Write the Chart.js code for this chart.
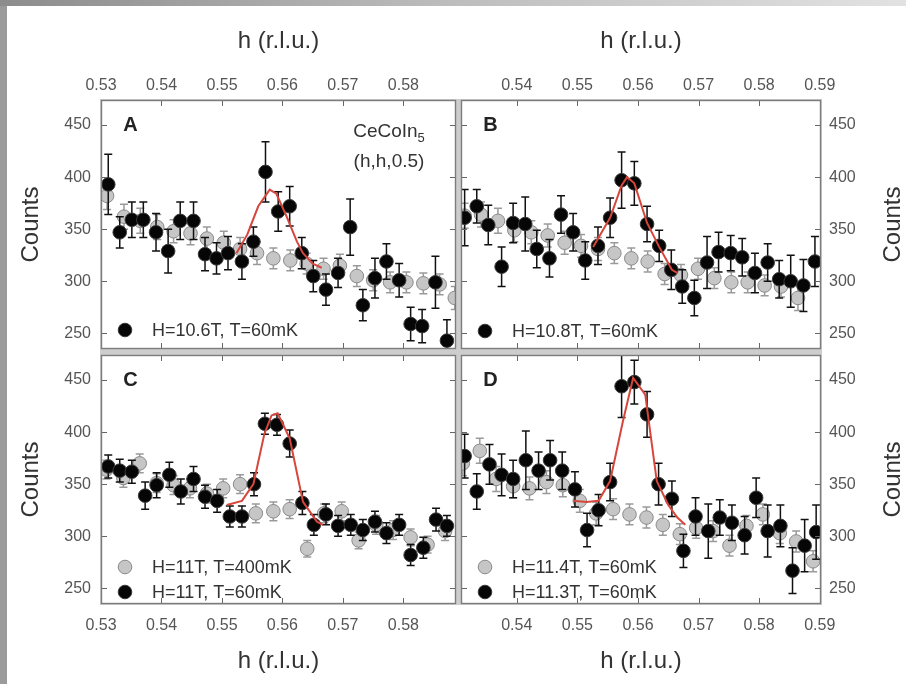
<!DOCTYPE html>
<html><head><meta charset="utf-8">
<script src="https://cdn.jsdelivr.net/npm/chart.js@4.4.1/dist/chart.umd.min.js"></script>
<style>
html,body{margin:0;padding:0;width:906px;height:684px;overflow:hidden;background:#fff}
.abs{position:absolute}
#fl{left:0;top:0;width:7px;height:684px;background:#9b9b9b}
#ft{left:0;top:0;width:906px;height:6px;background:linear-gradient(to right,#8c8c8c,#bdbdbd 50%,#e2e2e2)}
#gap{left:100px;top:99px;width:722px;height:506px;background:#cdcdcd}
canvas{position:absolute;left:0;top:0}
</style></head><body>
<div class="abs" id="gap"></div>
<div class="abs" id="fl"></div><div class="abs" id="ft"></div>
<canvas id="cA" width="906" height="684"></canvas>
<canvas id="cB" width="906" height="684"></canvas>
<canvas id="cC" width="906" height="684"></canvas>
<canvas id="cD" width="906" height="684"></canvas>
<script>
// ---------- tick labels / titles ----------
const xTicksLeft = [0.53, 0.54, 0.55, 0.56, 0.57, 0.58];
const xTicksRight = [0.54, 0.55, 0.56, 0.57, 0.58, 0.59];
const yTicks = [250, 300, 350, 400, 450];
const xTitle = 'h (r.l.u.)';
const yTitle = 'Counts';
const compound = 'CeCoIn';
const compoundSub = '5';
const qLabel = '(h,h,0.5)';
const panelLetters = ['A', 'B', 'C', 'D'];

// ---------- Panel A ----------
const aLegend = ['H=10.6T, T=60mK'];
const aBlackH = [0.5312,0.5331,0.5351,0.5370,0.5391,0.5411,0.5431,0.5453,0.5472,0.5491,0.5510,0.5533,0.5552,0.5572,0.5593,0.5612,0.5632,0.5651,0.5672,0.5692,0.5712,0.5733,0.5753,0.5772,0.5793,0.5812,0.5831,0.5853,0.5872];
const aBlackV = [393,347,359,359,347,329,358,358,326,322,327,319,338,405,367,372,327,305,292,308,352,277,303,319,301,259,257,299,243];
const aBlackE = [29,15,17,17,18,21,18,18,16,15,16,17,14,29,19,19,15,15,15,14,27,15,19,17,16,16,16,25,20];
const aGrayH = [0.5310,0.5338,0.5365,0.5393,0.5420,0.5448,0.5475,0.5503,0.5530,0.5558,0.5585,0.5613,0.5640,0.5668,0.5695,0.5723,0.5750,0.5778,0.5805,0.5833,0.5860,0.5885];
const aGrayV = [382,362,358,352,348,346,341,337,331,327,322,320,317,312,315,305,301,299,299,298,297,284];
const aGrayE = [13,12,12,12,11,11,11,11,11,11,10,10,10,10,11,10,10,10,10,10,10,11];
const aFitH = [0.5524,0.5542,0.5560,0.5579,0.5590,0.5607,0.5624,0.5634,0.5650,0.5665];
const aFitV = [327,345,372,388,384,362,338,327,317,313];

// ---------- Panel B ----------
const bLegend = ['H=10.8T, T=60mK'];
const bBlackH = [0.5314,0.5334,0.5353,0.5375,0.5394,0.5414,0.5433,0.5454,0.5473,0.5493,0.5513,0.5534,0.5554,0.5573,0.5594,0.5615,0.5635,0.5655,0.5673,0.5693,0.5714,0.5733,0.5753,0.5772,0.5793,0.5814,0.5833,0.5852,0.5873,0.5892];
const bBlackV = [361,372,354,314,356,355,331,322,364,347,320,334,361,397,394,355,334,311,295,284,318,328,327,323,308,318,302,300,296,319];
const bBlackE = [27,16,19,19,19,26,18,18,18,18,18,18,19,27,21,17,15,19,16,17,25,19,17,18,19,18,18,25,25,24];
const bGrayH = [0.5314,0.5341,0.5369,0.5396,0.5424,0.5451,0.5479,0.5506,0.5534,0.5561,0.5589,0.5616,0.5644,0.5671,0.5699,0.5726,0.5754,0.5781,0.5809,0.5836,0.5864];
const bGrayV = [363,364,358,349,347,344,337,334,331,327,322,319,307,306,312,303,299,299,296,295,284];
const bGrayE = [12,12,12,11,11,11,11,11,11,10,10,10,10,10,10,10,10,10,10,10,12];
const bFitH = [0.5526,0.5554,0.5573,0.5582,0.5594,0.5615,0.5635,0.5656,0.5665];
const bFitV = [333,361,392,400,394,356,333,311,308];

// ---------- Panel C ----------
const cLegend = ['H=11T, T=400mK', 'H=11T, T=60mK'];
const cBlackH = [0.5312,0.5331,0.5351,0.5373,0.5392,0.5413,0.5432,0.5453,0.5472,0.5492,0.5513,0.5533,0.5553,0.5571,0.5591,0.5612,0.5633,0.5652,0.5672,0.5692,0.5713,0.5733,0.5753,0.5772,0.5793,0.5812,0.5833,0.5854,0.5872];
const cBlackV = [367,363,362,339,349,359,343,355,338,334,319,319,350,408,407,389,332,311,321,310,311,306,314,303,311,282,289,316,310];
const cBlackE = [11,11,11,13,12,12,12,12,11,11,10,10,11,10,10,13,11,10,10,10,10,10,10,10,10,10,10,11,10];
const cGrayH = [0.5309,0.5337,0.5364,0.5392,0.5420,0.5447,0.5475,0.5502,0.5530,0.5556,0.5585,0.5612,0.5641,0.5669,0.5698,0.5726,0.5755,0.5783,0.5812,0.5840,0.5869];
const cGrayV = [364,356,370,351,349,346,341,346,350,322,324,326,288,322,324,296,311,306,299,292,305];
const cGrayE = [9,9,9,9,9,9,9,9,9,9,9,9,8,9,9,8,9,9,8,8,9];
const cFitH = [0.5508,0.5533,0.5552,0.5570,0.5582,0.5592,0.5612,0.5634,0.5657,0.5667];
const cFitV = [330,334,350,398,416,418,394,333,314,311];

// ---------- Panel D ----------
const dLegend = ['H=11.4T, T=60mK', 'H=11.3T, T=60mK'];
const dBlackH = [0.5314,0.5334,0.5355,0.5375,0.5394,0.5415,0.5436,0.5455,0.5475,0.5496,0.5516,0.5535,0.5554,0.5573,0.5594,0.5615,0.5634,0.5656,0.5675,0.5695,0.5716,0.5735,0.5755,0.5776,0.5795,0.5814,0.5835,0.5855,0.5875,0.5894];
const dBlackV = [377,343,369,359,355,373,363,373,363,345,306,325,352,444,448,417,350,336,286,319,305,318,313,301,337,305,310,267,291,304];
const dBlackE = [21,17,19,20,18,28,18,19,18,17,16,15,18,30,21,22,20,17,16,18,26,17,17,18,19,25,20,22,25,26];
const dGrayH = [0.5311,0.5339,0.5366,0.5394,0.5421,0.5449,0.5476,0.5504,0.5531,0.5559,0.5586,0.5614,0.5641,0.5669,0.5696,0.5724,0.5751,0.5779,0.5806,0.5834,0.5861,0.5889];
const dGrayV = [370,382,355,348,346,352,349,334,322,326,321,318,311,302,308,305,291,310,321,303,295,276];
const dGrayE = [12,12,12,11,11,11,11,11,11,10,10,10,10,10,10,10,10,10,10,10,10,10];
const dFitH = [0.5493,0.5515,0.5535,0.5554,0.5575,0.5592,0.5612,0.5631,0.5650,0.5665,0.5678];
const dFitV = [334,333,334,353,410,452,436,353,330,318,311];

// ---------- styles ----------
const FONT = "'Liberation Sans', Arial, Helvetica, sans-serif";
const W = 906, H = 684;
const Y_MIN = 235, Y_MAX = 474;
const BLACK = {bg:'#060606', border:'#3a3a3a', err:'#111111'};
const GRAY = {bg:'#c6c6c6', border:'#8a8a8a', err:'#9a9a9a'};
const PR = 6.8;

function pts(hs, vs){ return hs.map((h,i)=>({x:h, y:vs[i]})); }

function makePanel(id, p){
  const A = p.area;
  const datasets = [];
  if (p.gray){
    datasets.push({label: p.grayLabel, data: pts(p.gray[0], p.gray[1]), err: p.gray[2], sty: GRAY,
      showLine:false, pointRadius:PR, pointHoverRadius:PR, backgroundColor:GRAY.bg, borderColor:GRAY.border, borderWidth:1, order:2});
  }
  datasets.push({label: p.blackLabel, data: pts(p.black[0], p.black[1]), err: p.black[2], sty: BLACK,
    showLine:false, pointRadius:PR, pointHoverRadius:PR, backgroundColor:BLACK.bg, borderColor:BLACK.border, borderWidth:1, order:1});
  datasets.push({type:'line', label:'fit', data: pts(p.fit[0], p.fit[1]), showLine:true, pointRadius:0,
    borderColor:'#d6463c', borderWidth:2, fill:false, tension:0, order:0});

  const top = p.xPos === 'top', left = p.yPos === 'left';
  const plugin = {
    id:'panel'+id,
    beforeDraw(chart){
      const c = chart.ctx, a = chart.chartArea;
      c.save(); c.fillStyle = '#fff'; c.fillRect(a.left, a.top, a.right-a.left, a.bottom-a.top); c.restore();
    },
    beforeDatasetDraw(chart, args){
      const ds = chart.data.datasets[args.index];
      if (!ds.err) return;
      const c = chart.ctx, a = chart.chartArea, ys = chart.scales.y;
      c.save();
      c.beginPath(); c.rect(a.left, a.top, a.right-a.left, a.bottom-a.top); c.clip();
      c.strokeStyle = ds.sty.err; c.lineWidth = 1.5;
      args.meta.data.forEach((el, i) => {
        const v = ds.data[i].y, e = ds.err[i];
        const y1 = ys.getPixelForValue(v + e), y2 = ys.getPixelForValue(v - e);
        c.beginPath();
        c.moveTo(el.x, y1); c.lineTo(el.x, y2);
        c.moveTo(el.x-4, y1); c.lineTo(el.x+4, y1);
        c.moveTo(el.x-4, y2); c.lineTo(el.x+4, y2);
        c.stroke();
      });
      c.restore();
    },
    afterDraw(chart){
      const c = chart.ctx, a = chart.chartArea, xs = chart.scales.x, ys = chart.scales.y;
      c.save();
      // ticks inward on all four sides
      c.strokeStyle = '#666'; c.lineWidth = 1;
      c.beginPath();
      xs.ticks.forEach(t => {
        const x = Math.round(xs.getPixelForValue(t.value)) + 0.5;
        if (x <= a.left + 2 || x >= a.right - 2) return;
        c.moveTo(x, a.top); c.lineTo(x, a.top + 6);
        c.moveTo(x, a.bottom); c.lineTo(x, a.bottom - 6);
      });
      ys.ticks.forEach(t => {
        const y = Math.round(ys.getPixelForValue(t.value)) + 0.5;
        c.moveTo(a.left, y); c.lineTo(a.left + 6, y);
        c.moveTo(a.right, y); c.lineTo(a.right - 6, y);
      });
      c.stroke();
      // frame
      c.strokeStyle = '#7c7c7c'; c.lineWidth = 1.4;
      c.strokeRect(a.left + 0.5, a.top + 0.5, a.right - a.left - 1, a.bottom - a.top - 1);
      // panel letter
      c.fillStyle = '#222'; c.font = 'bold 20px ' + FONT; c.textAlign = 'center'; c.textBaseline = 'middle';
      c.fillText(p.letter, a.left + 29.5, a.top + 25);
      // legend
      c.font = '18px ' + FONT; c.textAlign = 'left'; c.fillStyle = '#333';
      p.legend.forEach((it, i) => {
        const y = a.bottom - it.dy;
        c.beginPath(); c.arc(a.left + 24, y, PR, 0, Math.PI*2);
        c.fillStyle = it.sty.bg; c.fill(); c.lineWidth = 1; c.strokeStyle = it.sty.border; c.stroke();
        c.fillStyle = '#333'; c.fillText(it.text, a.left + 51, y + 1);
      });
      // compound label
      if (p.compound){
        c.fillStyle = '#333'; c.textBaseline = 'alphabetic';
        c.font = '19px ' + FONT; const w1 = c.measureText(compound).width;
        c.font = '13px ' + FONT; const w2 = c.measureText(compoundSub).width;
        const cx = a.left + 288, x0 = cx - (w1 + w2) / 2;
        c.textAlign = 'left';
        c.font = '19px ' + FONT; c.fillText(compound, x0, a.top + 37);
        c.font = '13px ' + FONT; c.fillText(compoundSub, x0 + w1, a.top + 42);
        c.font = '19px ' + FONT; c.textAlign = 'center'; c.fillText(qLabel, cx, a.top + 67);
      }
      // right-hand y title, reading upward
      if (!left){
        c.translate(893, (a.top + a.bottom) / 2); c.rotate(-Math.PI/2);
        c.font = '24px ' + FONT; c.fillStyle = '#333'; c.textAlign = 'center'; c.textBaseline = 'middle';
        c.fillText(yTitle, 0, 0);
      }
      c.restore();
    }
  };

  const xTicks = p.xTicks;
  new Chart(document.getElementById(id), {
    type:'scatter',
    data:{datasets},
    options:{
      responsive:false, animation:false, events:[],
      layout:{padding:{
        left: left ? 0 : A.l, right: left ? W - A.r : 0,
        top: top ? 0 : A.t, bottom: top ? H - A.b : 0}},
      plugins:{legend:{display:false}, tooltip:{enabled:false}},
      scales:{
        x:{type:'linear', position:p.xPos, min:p.xMin, max:p.xMax,
          afterBuildTicks: s => { s.ticks = xTicks.map(v => ({value:v})); },
          afterFit: s => { s.height = top ? A.t : H - A.b; },
          grid:{display:false, drawTicks:false}, border:{display:false},
          ticks:{autoSkip:false, maxRotation:0, padding: top ? 5 : 12, color:'#555',
            font:{family:FONT, size:16}, callback: v => Number(v).toFixed(2)},
          title:{display:true, text:xTitle, color:'#333', font:{family:FONT, size:24},
            padding: top ? {top:27, bottom:0} : {top:0, bottom:8}}
        },
        y:{type:'linear', position:p.yPos, min:Y_MIN, max:Y_MAX,
          afterBuildTicks: s => { s.ticks = yTicks.map(v => ({value:v})); },
          afterFit: s => { s.width = left ? A.l : W - A.r; },
          grid:{display:false, drawTicks:false}, border:{display:false},
          ticks:{autoSkip:false, padding: left ? 10 : 8, color:'#555',
            font:{family:FONT, size:16}, callback: v => String(v)},
          title:{display:left, text:yTitle, color:'#333', font:{family:FONT, size:24}, padding:{top:17, bottom:0}}
        }
      }
    },
    plugins:[plugin]
  });
}

makePanel('cA', {area:{l:101,t:100,r:456,b:349}, xMin:0.53, xMax:0.5887, xTicks:xTicksLeft, xPos:'top', yPos:'left',
  black:[aBlackH,aBlackV,aBlackE], blackLabel:aLegend[0], gray:[aGrayH,aGrayV,aGrayE], grayLabel:'reference',
  fit:[aFitH,aFitV], letter:panelLetters[0], compound:true,
  legend:[{text:aLegend[0], sty:BLACK, dy:19}]});
makePanel('cB', {area:{l:461,t:100,r:821,b:349}, xMin:0.5308, xMax:0.5902, xTicks:xTicksRight, xPos:'top', yPos:'right',
  black:[bBlackH,bBlackV,bBlackE], blackLabel:bLegend[0], gray:[bGrayH,bGrayV,bGrayE], grayLabel:'reference',
  fit:[bFitH,bFitV], letter:panelLetters[1],
  legend:[{text:bLegend[0], sty:BLACK, dy:18}]});
makePanel('cC', {area:{l:101,t:355,r:456,b:604}, xMin:0.53, xMax:0.5887, xTicks:xTicksLeft, xPos:'bottom', yPos:'left',
  black:[cBlackH,cBlackV,cBlackE], blackLabel:cLegend[1], gray:[cGrayH,cGrayV,cGrayE], grayLabel:cLegend[0],
  fit:[cFitH,cFitV], letter:panelLetters[2],
  legend:[{text:cLegend[0], sty:GRAY, dy:37}, {text:cLegend[1], sty:BLACK, dy:12}]});
makePanel('cD', {area:{l:461,t:355,r:821,b:604}, xMin:0.5308, xMax:0.5902, xTicks:xTicksRight, xPos:'bottom', yPos:'right',
  black:[dBlackH,dBlackV,dBlackE], blackLabel:dLegend[1], gray:[dGrayH,dGrayV,dGrayE], grayLabel:dLegend[0],
  fit:[dFitH,dFitV], letter:panelLetters[3],
  legend:[{text:dLegend[0], sty:GRAY, dy:37}, {text:dLegend[1], sty:BLACK, dy:12}]});
</script>
</body></html>
